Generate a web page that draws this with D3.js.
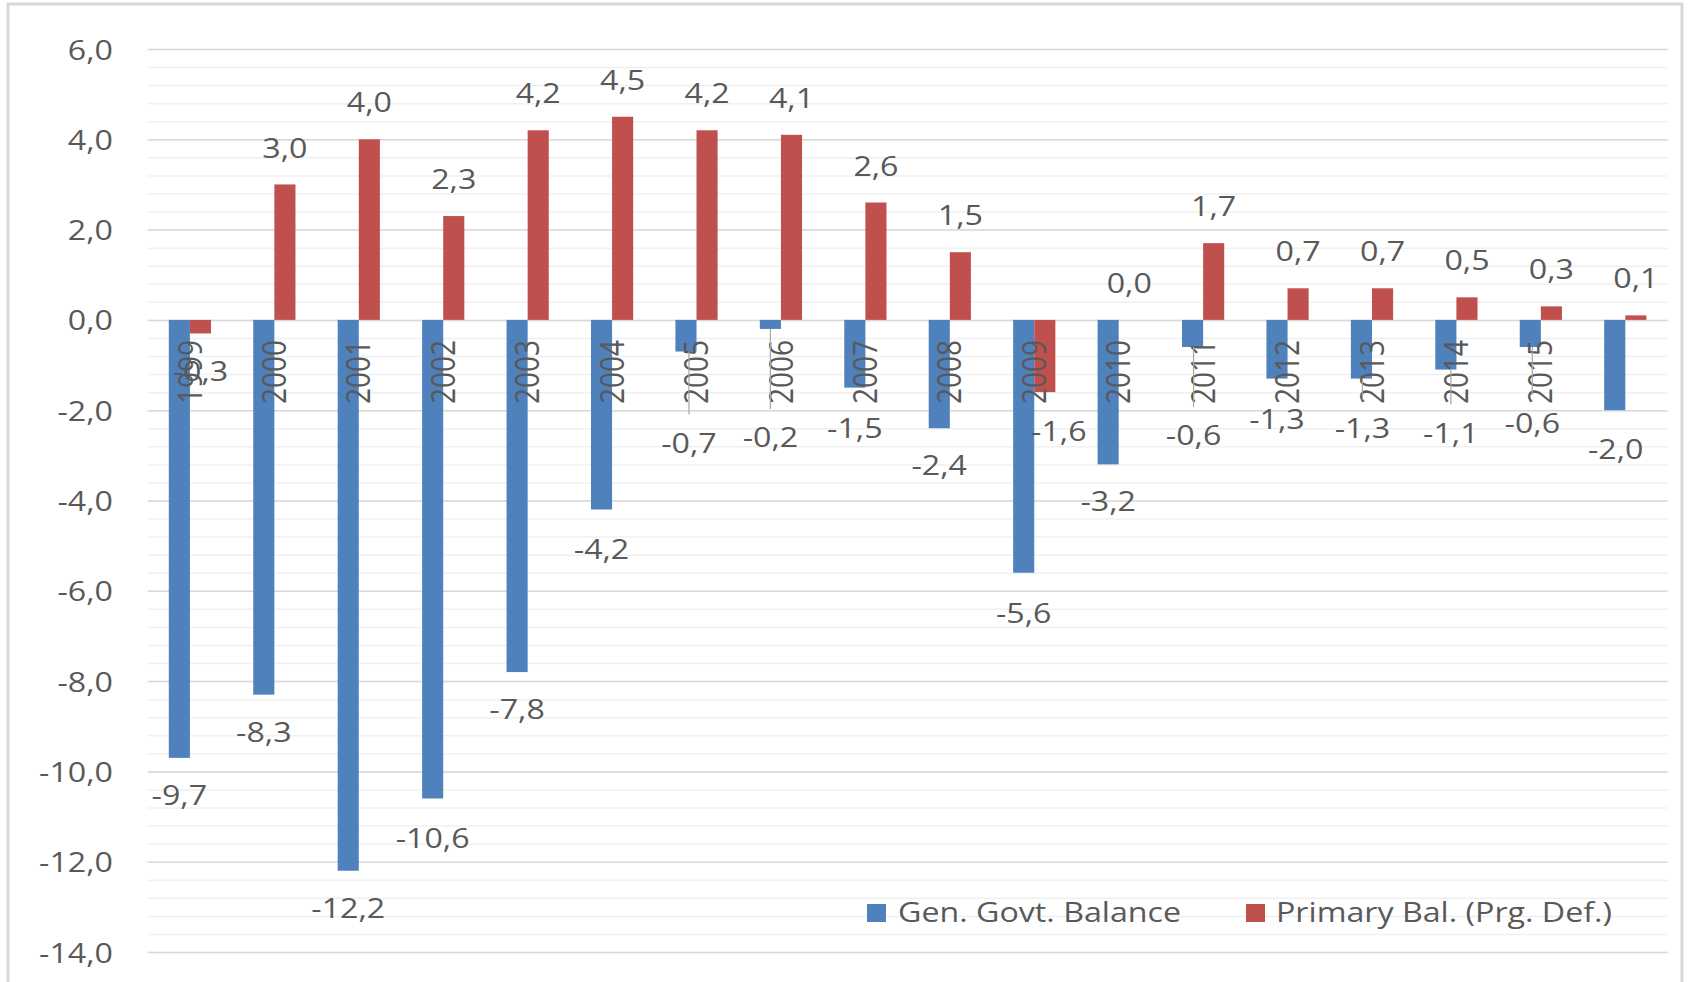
<!DOCTYPE html>
<html>
<head>
<meta charset="utf-8">
<script src="https://cdn.jsdelivr.net/npm/d3@7"></script>
<style>
  html, body { margin: 0; padding: 0; background: #ffffff; }
  svg { display: block; }
  text { font-family: "Open Sans", sans-serif; fill: #595959; }
</style>
</head>
<body>
<svg id="chart" width="1690" height="982"></svg>
<script>
// Budget balances, % of GDP
const categories = ["1999","2000","2001","2002","2003","2004","2005","2006","2007","2008",
                    "2009","2010","2011","2012","2013","2014","2015",""];
const genGovtBalance = [-9.7,-8.3,-12.2,-10.6,-7.8,-4.2,-0.7,-0.2,-1.5,-2.4,
                        -5.6,-3.2,-0.6,-1.3,-1.3,-1.1,-0.6,-2.0];
const primaryBalance = [-0.3,3.0,4.0,2.3,4.2,4.5,4.2,4.1,2.6,1.5,
                        -1.6,0.0,1.7,0.7,0.7,0.5,0.3,0.1];
const seriesNames = ["Gen. Govt. Balance", "Primary Bal. (Prg. Def.)"];
const majorTicks = [6, 4, 2, 0, -2, -4, -6, -8, -10, -12, -14];

// Hand-placed data labels: extra [dx, dy] nudges in pixels
const genLabelNudge = [[0,0],[0,0],[0,0],[0,2],[0,0],[0,2],[3,54],[0,71],[0,3],[0,0],
                       [0,3],[0,0],[1,51],[0,3],[1,12],[5,26],[2,39],[1,2]];
const primLabelNudge = [[0,0],[0,0],[0,0],[0,0],[0,0],[0,0],[0,0],[0,0],[0,0],[0,0],
                        [14,2],[0,0],[0,0],[0,0],[0,0],[0,0],[0,0],[0,0]];

const colors = ["#4f81bd", "#c0504d"];
const FONT = 28, SX = 1.15, LABEL_GAP = 37;

const svg = d3.select("#chart");
const plotLeft = 147.7, plotRight = 1667.5, plotTop = 49, plotBottom = 952;

const locale = d3.formatLocale({decimal: ",", thousands: ".", grouping: [3], currency: ["", ""], minus: "-"});
const fmt = locale.format(".1f");

const x = d3.scaleBand().domain(d3.range(categories.length))
  .range([plotLeft, plotRight]).paddingInner(0.5).paddingOuter(0.25);
const xs = d3.scaleBand().domain([0, 1]).range([0, x.bandwidth()]);
const y = d3.scaleLinear().domain([-14, 6]).range([plotBottom, plotTop]);

// outer frame
svg.append("rect").attr("x", 8).attr("y", 4).attr("width", 1674).attr("height", 1000)
  .attr("fill", "#ffffff").attr("stroke", "#d9d9d9").attr("stroke-width", 3);

// minor gridlines
const minor = d3.range(-14, 6.001, 0.4).map(v => Math.round(v * 10) / 10);
svg.append("g").attr("transform", `translate(${plotLeft},0)`)
  .call(d3.axisLeft(y).tickValues(minor).tickSize(-(plotRight - plotLeft)).tickFormat(""))
  .call(g => g.select(".domain").remove())
  .call(g => g.selectAll("line").attr("stroke", "#f0f0f0").attr("stroke-width", 1.5));

// major gridlines with value labels
svg.append("g").attr("transform", `translate(${plotLeft},0)`)
  .call(d3.axisLeft(y).tickValues(majorTicks).tickSize(-(plotRight - plotLeft)).tickFormat(fmt))
  .call(g => g.select(".domain").remove())
  .call(g => g.selectAll("line").attr("stroke", "#d9d9d9").attr("stroke-width", 1.5))
  .call(g => g.selectAll("text")
    .attr("x", null).attr("dy", "0.36em")
    .attr("transform", `translate(${113 - plotLeft},0) scale(${SX},1)`)
    .style("font-size", FONT + "px").style("fill", "#595959").style("font-family", "Open Sans")
    .attr("text-anchor", "end"));

// bars
const series = [genGovtBalance, primaryBalance];
series.forEach((vals, s) => {
  svg.append("g").selectAll("rect").data(vals).join("rect")
    .attr("x", (d, i) => x(i) + xs(s))
    .attr("width", xs.bandwidth())
    .attr("y", d => y(Math.max(0, d)))
    .attr("height", d => Math.abs(y(d) - y(0)))
    .attr("fill", colors[s]);
});

// category labels, rotated (each tick group is already at the band centre)
svg.append("g").attr("transform", `translate(0,${y(0)})`)
  .call(d3.axisBottom(x).tickSize(0).tickFormat(i => categories[i]))
  .call(g => g.select(".domain").remove())
  .call(g => g.selectAll("text")
    .attr("x", null).attr("y", null).attr("dy", "0.36em")
    .attr("text-anchor", "end")
    .attr("transform", `translate(0,20) scale(${SX},1) rotate(-90)`)
    .style("font-size", FONT + "px").style("fill", "#595959").style("font-family", "Open Sans"));

// data labels with leader lines where moved
const nudges = [genLabelNudge, primLabelNudge];
series.forEach((vals, s) => {
  const g = svg.append("g");
  vals.forEach((v, i) => {
    const cx = x(i) + xs(s) + xs.bandwidth() / 2 + nudges[s][i][0];
    const sign = v < 0 ? 1 : -1;
    const cy = y(v) + sign * LABEL_GAP + nudges[s][i][1];
    if (nudges[s][i][1] > 10) {
      g.append("line").attr("x1", cx).attr("x2", cx)
        .attr("y1", y(v)).attr("y2", cy - 28)
        .attr("stroke", "#a6a6a6").attr("stroke-width", 1.2);
    }
    g.append("text")
      .attr("transform", `translate(${cx},${cy}) scale(${SX},1)`)
      .attr("dy", "0.36em").attr("text-anchor", "middle")
      .style("font-size", FONT + "px")
      .text(fmt(v));
  });
});

// legend
const legendItems = [{sx: 867, tx: 898}, {sx: 1246, tx: 1276}];
const lg = svg.append("g");
legendItems.forEach((it, k) => {
  lg.append("rect").attr("x", it.sx).attr("y", 904).attr("width", 19).attr("height", 18)
    .attr("fill", colors[k]);
  lg.append("text").attr("transform", `translate(${it.tx},912) scale(${SX},1)`)
    .attr("dy", "0.36em").style("font-size", FONT + "px").text(seriesNames[k]);
});
</script>
</body>
</html>
